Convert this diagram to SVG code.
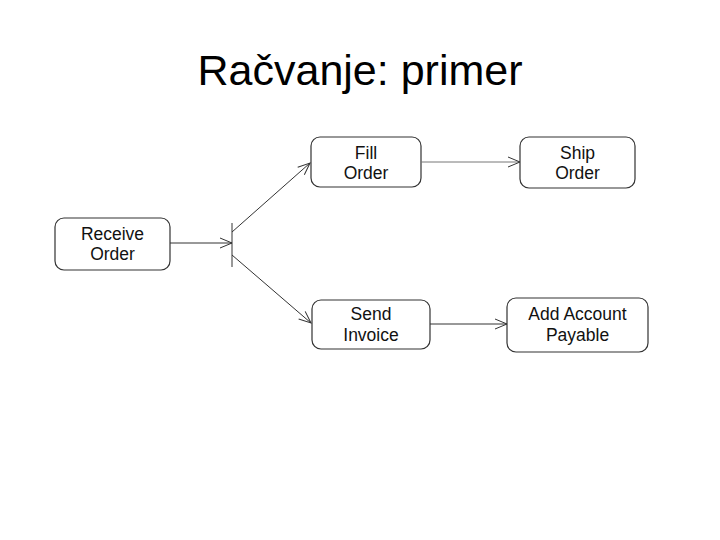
<svg xmlns="http://www.w3.org/2000/svg" width="720" height="540" viewBox="0 0 720 540">
<style>
.node rect{fill:#fff;stroke:#333;stroke-width:1.2}
.node text{font-family:"Liberation Sans",Arial,sans-serif;font-size:17.5px;fill:#111;text-anchor:middle}
.title{font-family:"Liberation Sans",Arial,sans-serif;font-size:43px;fill:#000;text-anchor:middle}
.conn line{stroke:#333;stroke-width:1}
.conn .light{stroke:#777}
</style>
<defs>
<marker id="arr" markerWidth="14" markerHeight="12" refX="13" refY="6" orient="auto" markerUnits="userSpaceOnUse">
<path d="M1,1 L13,6 L1,11" fill="none" stroke="#333" stroke-width="1"/>
</marker>
</defs>
<rect width="720" height="540" fill="#fff"/>
<text class="title" x="360" y="85">Račvanje: primer</text>
<g id="receive" class="node">
<rect x="55" y="218" width="115" height="52" rx="9"/>
<text x="112.5" y="240">Receive</text>
<text x="112.5" y="260">Order</text>
</g>
<g id="fill" class="node">
<rect x="311" y="137" width="110" height="50" rx="9"/>
<text x="366" y="159">Fill</text>
<text x="366" y="179">Order</text>
</g>
<g id="ship" class="node">
<rect x="520" y="137" width="115" height="51" rx="9"/>
<text x="577.5" y="159">Ship</text>
<text x="577.5" y="179">Order</text>
</g>
<g id="send" class="node">
<rect x="312" y="300" width="118" height="49" rx="9"/>
<text x="371" y="320">Send</text>
<text x="371" y="341">Invoice</text>
</g>
<g id="payable" class="node">
<rect x="507" y="298" width="141" height="54" rx="9"/>
<text x="577.5" y="320">Add Account</text>
<text x="577.5" y="341">Payable</text>
</g>
<g id="connectors" class="conn">
<line x1="170" y1="243" x2="232" y2="243" marker-end="url(#arr)"/>
<line x1="232" y1="223" x2="232" y2="267" stroke-width="1.3"/>
<line x1="232" y1="232" x2="310" y2="163" marker-end="url(#arr)"/>
<line x1="232" y1="255" x2="311" y2="323" marker-end="url(#arr)"/>
<line class="light" x1="421" y1="162" x2="520" y2="162" marker-end="url(#arr)"/>
<line x1="430" y1="324" x2="507" y2="324" marker-end="url(#arr)"/>
</g>
</svg>
